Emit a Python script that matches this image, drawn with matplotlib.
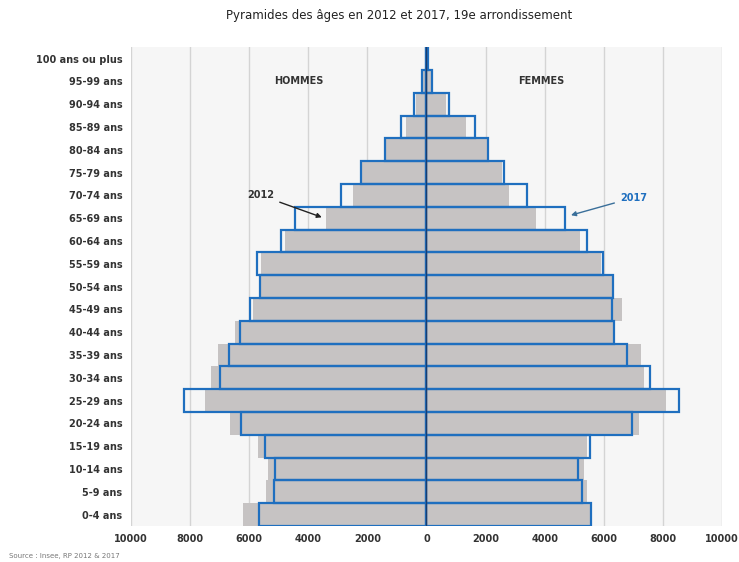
import numpy as np
import matplotlib.pyplot as plt

ages = ["0-4 ans", "5-9 ans", "10-14 ans", "15-19 ans", "20-24 ans", "25-29 ans",
        "30-34 ans", "35-39 ans", "40-44 ans", "45-49 ans", "50-54 ans", "55-59 ans",
        "60-64 ans", "65-69 ans", "70-74 ans", "75-79 ans", "80-84 ans", "85-89 ans",
        "90-94 ans", "95-99 ans", "100 ans ou plus"]

# 2012 (barres grises)
hommes_2012 = [6200, 5420, 5360, 5700, 6640, 7490, 7290, 7050, 6470, 5860, 5600,
               5600, 4800, 3390, 2470, 2250, 1400, 680, 350, 100, 20]
femmes_2012 = [5600, 5420, 5320, 5420, 7190, 8100, 7360, 7250, 6340, 6610, 6340,
               5900, 5200, 3700, 2780, 2550, 2050, 1350, 650, 180, 60]

# 2017 (contours bleus)
hommes_2017 = [5660, 5150, 5120, 5460, 6270, 8200, 6980, 6680, 6300, 5970, 5630,
               5730, 4920, 4440, 2880, 2200, 1390, 850, 410, 140, 30]
femmes_2017 = [5560, 5250, 5120, 5520, 6950, 8540, 7560, 6780, 6340, 6270, 6300,
               5970, 5420, 4680, 3390, 2640, 2100, 1630, 780, 200, 60]

gray = "#c6c3c3"
blue = "#1f6fbf"

fig = plt.figure(figsize=(7.39, 5.62), dpi=100)
ax = fig.add_axes([0.177, 0.064, 0.800, 0.852])
ax.set_facecolor("#f6f6f6")

y = np.arange(len(ages))
ax.barh(y, -np.array(hommes_2012), height=1.0, color=gray, zorder=2)
ax.barh(y, femmes_2012, height=1.0, color=gray, zorder=2)
ax.barh(y, -np.array(hommes_2017), height=1.0, fill=False, edgecolor=blue, linewidth=1.6, zorder=3)
ax.barh(y, femmes_2017, height=1.0, fill=False, edgecolor=blue, linewidth=1.6, zorder=3)
ax.axvline(0, color="#1a3d6e", linewidth=1.0, zorder=4)

ax.set_xlim(-10000, 10000)
ax.set_ylim(-0.5, len(ages) - 0.5)
ticks = np.arange(-10000, 10001, 2000)
ax.set_xticks(ticks)
ax.set_xticklabels([str(abs(t)) for t in ticks], fontsize=7, fontweight="bold", color="#333333")
ax.set_yticks(y)
ax.set_yticklabels(ages, fontsize=7, fontweight="bold", color="#333333")
ax.tick_params(length=0, pad=6)
ax.grid(axis="x", color="#d4d4d4", linewidth=1.0, zorder=0)
ax.set_axisbelow(True)
for s in ax.spines.values():
    s.set_visible(False)

ax.text(-4300, 19.0, "HOMMES", fontsize=7, fontweight="bold", color="#333333", ha="center", va="center")
ax.text(3900, 19.0, "FEMMES", fontsize=7, fontweight="bold", color="#333333", ha="center", va="center")
ax.annotate("2012", xy=(-3450, 13.0), xytext=(-5600, 14.0), fontsize=7, fontweight="bold",
            color="#333333", ha="center", va="center",
            arrowprops=dict(arrowstyle="-|>", color="#222222", lw=1.0))
ax.annotate("2017", xy=(4800, 13.1), xytext=(7000, 13.9), fontsize=7, fontweight="bold",
            color=blue, ha="center", va="center",
            arrowprops=dict(arrowstyle="-|>", color="#3a6f9a", lw=1.0))

fig.text(0.54, 0.972, "Pyramides des âges en 2012 et 2017, 19e arrondissement",
         ha="center", va="center", fontsize=8.5, color="#222222")
fig.text(0.012, 0.005, "Source : Insee, RP 2012 & 2017", fontsize=5, color="#777777",
         ha="left", va="bottom")

fig.savefig("out.png", dpi=100)
